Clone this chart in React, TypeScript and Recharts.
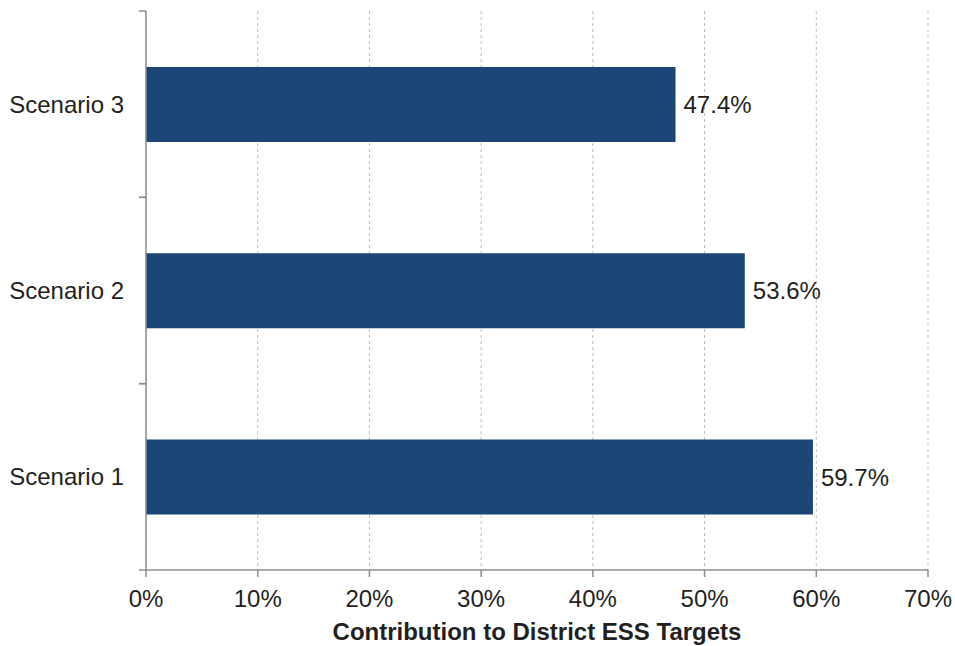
import { BarChart, Bar, XAxis, YAxis, CartesianGrid, LabelList } from "recharts";

const SCENARIOS = ["Scenario 1", "Scenario 2", "Scenario 3"];
const CONTRIBUTION = [59.7, 53.6, 47.4];
const X_TICKS = [0, 10, 20, 30, 40, 50, 60, 70];

const data = SCENARIOS.map((name, i) => ({ name, value: CONTRIBUTION[i] }));

const FONT = "'Liberation Sans', Arial, sans-serif";
const AXIS = "#8e8e8e";
const TEXT = "#231f20";
const LABEL_GAP = 22;
const TICK_LEN = 7;

// category label plus tick marks at the band edges (the reference puts ticks between categories)
function ScenarioTick(props: any) {
  const { x, y, payload } = props;
  const half = payload.offset ?? 0;
  const axisX = x + LABEL_GAP;
  return (
    <g>
      <line x1={axisX - TICK_LEN} x2={axisX} y1={y - half} y2={y - half} stroke={AXIS} strokeWidth={1.5} />
      <line x1={axisX - TICK_LEN} x2={axisX} y1={y + half} y2={y + half} stroke={AXIS} strokeWidth={1.5} />
      <text x={x} y={y} dy="0.355em" textAnchor="end" fontSize={24} fill={TEXT} fontFamily={FONT}>
        {payload.value}
      </text>
    </g>
  );
}

export default function App() {
  return (
    <div style={{ position: "absolute", left: 0, top: 0, width: 955, height: 646, background: "#fff", fontFamily: FONT }}>
      <BarChart
        width={955}
        height={646}
        data={data}
        layout="vertical"
        margin={{ top: 11, right: 27, bottom: 0, left: 0 }}
        barCategoryGap="30%"
      >
        <CartesianGrid horizontal={false} stroke="#bdbdbd" strokeDasharray="3 3" />
        <XAxis
          type="number"
          domain={[0, 70]}
          ticks={X_TICKS}
          tickFormatter={(v) => `${v}%`}
          height={76}
          stroke={AXIS}
          strokeWidth={1.5}
          tickSize={7}
          tickMargin={13}
          tick={{ fontSize: 24, fill: TEXT, fontFamily: FONT }}
          label={{ value: "Contribution to District ESS Targets", position: "insideBottom", offset: 6, style: { fontSize: 24, fontWeight: "bold", fill: TEXT, fontFamily: FONT } }}
        />
        <YAxis
          type="category"
          dataKey="name"
          reversed
          width={146}
          stroke={AXIS}
          strokeWidth={1.5}
          tickLine={false}
          tickSize={0}
          tickMargin={LABEL_GAP}
          tick={<ScenarioTick />}
        />
        <Bar dataKey="value" fill="#1b4677" isAnimationActive={false}>
          <LabelList
            dataKey="value"
            position="right"
            offset={8}
            formatter={(v: number) => `${v.toFixed(1)}%`}
            style={{ fontSize: 24, fill: TEXT, fontFamily: FONT }}
          />
        </Bar>
      </BarChart>
    </div>
  );
}
